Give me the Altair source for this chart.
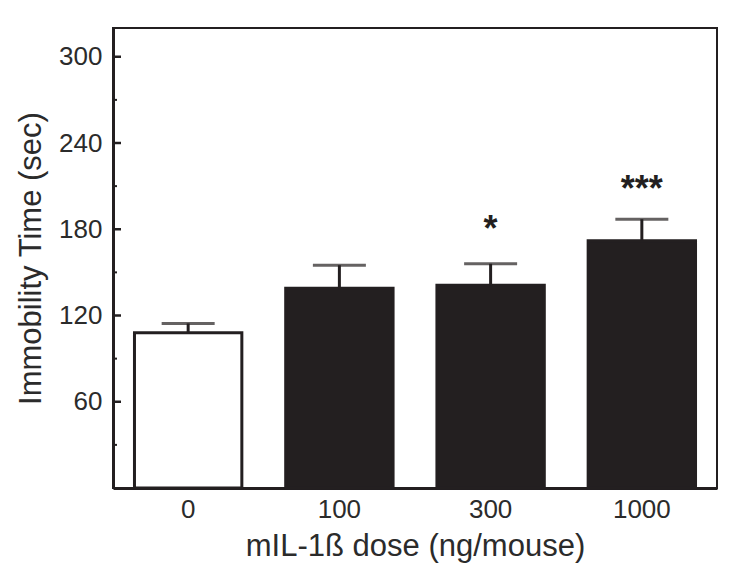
import altair as alt
import pandas as pd

doses = ["0", "100", "300", "1000"]
means = [108, 139, 141, 172]
sems = [6.5, 16, 15, 15]
fills = ["#ffffff", "#231f20", "#231f20", "#231f20"]
stars = ["", "", "*", "***"]
star_y = [None, None, 172, 200]

major_ticks = [60, 120, 180, 240, 300]
minor_ticks = [30, 90, 150, 210, 270]

df = pd.DataFrame({
    "dose": doses,
    "mean": means,
    "upper": [m + s for m, s in zip(means, sems)],
    "fill": fills,
    "star": stars,
    "star_y": star_y,
})

FONT = "Liberation Sans"
TXT = "#231f20"

xscale = alt.Scale(domain=doses, paddingInner=0.29, paddingOuter=0.142)
yscale = alt.Scale(domain=[0, 320], nice=False, zero=True)

x_enc = alt.X("dose:N", scale=xscale, sort=doses,
              axis=alt.Axis(title="mIL-1ß dose (ng/mouse)", labelAngle=0, ticks=False,
                            labelPadding=8, titlePadding=9, domainWidth=3,
                            domainColor=TXT))
y_enc = alt.Y("mean:Q", scale=yscale,
              axis=alt.Axis(title="Immobility Time (sec)", values=major_ticks, ticks=False,
                            labelPadding=11, titlePadding=11, domainWidth=3,
                            domainColor=TXT, grid=False))

base = alt.Chart(df)

bars = base.mark_bar(stroke=TXT, strokeWidth=3).encode(
    x=x_enc, y=y_enc, fill=alt.Fill("fill:N", scale=None)
)

err = base.mark_rule(color=TXT, strokeWidth=3).encode(
    x=alt.X("dose:N", scale=xscale, sort=doses),
    y=alt.Y("mean:Q", scale=yscale), y2="upper:Q"
)

caps = base.mark_tick(color=TXT, thickness=3, size=53, orient="horizontal").encode(
    x=alt.X("dose:N", scale=xscale, sort=doses),
    y=alt.Y("upper:Q", scale=yscale)
)

txt = base.transform_filter("datum.star != ''").mark_text(
    font=FONT, fontSize=36, fontWeight="bold", color=TXT, baseline="alphabetic"
).encode(
    x=alt.X("dose:N", scale=xscale, sort=doses),
    y=alt.Y("star_y:Q", scale=yscale),
    text="star:N"
)

major = alt.Chart(pd.DataFrame({"v": major_ticks})).mark_rule(color=TXT, strokeWidth=2.5).encode(
    y=alt.Y("v:Q", scale=yscale), x=alt.value(0), x2=alt.value(8)
)
minor = alt.Chart(pd.DataFrame({"v": minor_ticks})).mark_rule(color=TXT, strokeWidth=2).encode(
    y=alt.Y("v:Q", scale=yscale), x=alt.value(0), x2=alt.value(4)
)

chart = alt.layer(bars, err, caps, txt, major, minor).properties(
    width=604, height=460,
    autosize=alt.AutoSizeParams(type="none"),
    padding={"left": 105, "top": 20, "right": 20, "bottom": 75},
).configure_view(
    stroke=TXT, strokeWidth=2
).configure_axis(
    labelFont=FONT, titleFont=FONT, labelFontSize=26, titleFontSize=31,
    labelColor="#2b2b2b", titleColor="#2b2b2b", titleFontWeight="normal"
)

chart.save("out.html", embed_options={"renderer": "svg", "actions": False})
